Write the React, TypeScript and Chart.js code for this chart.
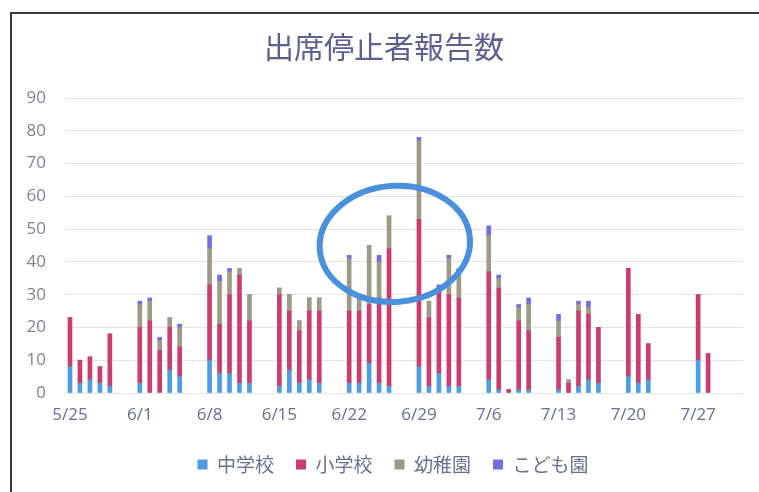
import React, { useEffect, useRef } from "react";
import { Chart, registerables } from "chart.js";

Chart.register(...registerables);

// ---- data ----
const DATES = [
  "5/25", "5/26", "5/27", "5/28", "5/29", "5/30", "5/31",
  "6/1", "6/2", "6/3", "6/4", "6/5", "6/6", "6/7",
  "6/8", "6/9", "6/10", "6/11", "6/12", "6/13", "6/14",
  "6/15", "6/16", "6/17", "6/18", "6/19", "6/20", "6/21",
  "6/22", "6/23", "6/24", "6/25", "6/26", "6/27", "6/28",
  "6/29", "6/30", "7/1", "7/2", "7/3", "7/4", "7/5",
  "7/6", "7/7", "7/8", "7/9", "7/10", "7/11", "7/12",
  "7/13", "7/14", "7/15", "7/16", "7/17", "7/18", "7/19",
  "7/20", "7/21", "7/22", "7/23", "7/24", "7/25", "7/26",
  "7/27", "7/28", "7/29", "7/30", "7/31",
];
const TICK_LABELS = ["5/25", "6/1", "6/8", "6/15", "6/22", "6/29", "7/6", "7/13", "7/20", "7/27"];
const Y_TICKS = [0, 10, 20, 30, 40, 50, 60, 70, 80, 90];

const TITLE = "出席停止者報告数";
const SERIES_NAMES = ["中学校", "小学校", "幼稚園", "こども園"];

// 中学校
const JUNIOR_HIGH = [
  8, 3, 4, 3, 2, null, null,
  3, 0, 0, 7, 5, null, null,
  10, 6, 6, 3, 3, null, null,
  2, 7, 3, 4, 3, null, null,
  3, 3, 9, 3, 2, null, null,
  8, 2, 6, 2, 2, null, null,
  4, 1, 0, 1, 1, null, null,
  1, 0, 2, 4, 3, null, null,
  5, 3, 4, null, null, null, null,
  10, 0, null, null, null,
];
// 小学校
const ELEMENTARY = [
  15, 7, 7, 5, 16, null, null,
  17, 22, 13, 13, 9, null, null,
  23, 15, 24, 33, 19, null, null,
  28, 18, 16, 21, 22, null, null,
  22, 22, 18, 26, 42, null, null,
  45, 21, 26, 28, 27, null, null,
  33, 31, 1, 21, 18, null, null,
  16, 3, 23, 20, 17, null, null,
  33, 21, 11, null, null, null, null,
  20, 12, null, null, null,
];
// 幼稚園
const KINDERGARTEN = [
  0, 0, 0, 0, 0, null, null,
  7, 6, 3, 3, 6, null, null,
  11, 13, 7, 2, 8, null, null,
  2, 5, 3, 4, 4, null, null,
  16, 4, 18, 11, 10, null, null,
  24, 5, 0, 11, 8, null, null,
  11, 3, 0, 4, 8, null, null,
  5, 1, 2, 2, 0, null, null,
  0, 0, 0, null, null, null, null,
  0, 0, null, null, null,
];
// こども園
const CHILDREN_CENTER = [
  0, 0, 0, 0, 0, null, null,
  1, 1, 1, 0, 1, null, null,
  4, 2, 1, 0, 0, null, null,
  0, 0, 0, 0, 0, null, null,
  1, 0, 0, 2, 0, null, null,
  1, 0, 1, 1, 1, null, null,
  3, 1, 0, 1, 2, null, null,
  2, 0, 1, 2, 0, null, null,
  0, 0, 0, null, null, null, null,
  0, 0, null, null, null,
];

// hand-drawn circle annotation, in data units (category index / value)
const NOTE_CENTER_INDEX = 32.58;
const NOTE_CENTER_VALUE = 45.5;
const NOTE_HALF_DAYS = 7.55;
const NOTE_HALF_VALUE = 17.7;
const NOTE_TILT = -0.08;

// ---- styles ----
const COLORS = ["#4e9de3", "#cc3d6f", "#9e9a86", "#6f70e0"];
const CJK = "'Noto Sans CJK JP', 'Noto Sans', sans-serif";
const LATIN = "'Open Sans', 'Noto Sans', sans-serif";

const notePlugin = {
  id: "circleNote",
  afterDatasetsDraw(chart: any) {
    const { ctx, scales } = chart;
    const x = scales.x;
    const y = scales.y;
    const x0 = x.getPixelForValue(0);
    const slot = x.getPixelForValue(1) - x0;
    const cx = x0 + NOTE_CENTER_INDEX * slot;
    const cy = y.getPixelForValue(NOTE_CENTER_VALUE);
    const rx = NOTE_HALF_DAYS * slot;
    const ry = y.getPixelForValue(0) - y.getPixelForValue(NOTE_HALF_VALUE);
    ctx.save();
    ctx.beginPath();
    ctx.ellipse(cx, cy, rx, ry, NOTE_TILT, 0, Math.PI * 2);
    ctx.strokeStyle = "#4a90dc";
    ctx.lineWidth = 6;
    ctx.stroke();
    ctx.restore();
  },
};

const shiftPlugin = {
  id: "shiftBoxes",
  afterLayout(chart: any) {
    if (chart.legend) {
      chart.legend.left += 14;
      chart.legend.right += 14;
    }
    if (chart.titleBlock) {
      chart.titleBlock.left += 5;
      chart.titleBlock.right += 5;
    }
  },
};

export default function App() {
  const ref = useRef<HTMLCanvasElement | null>(null);

  useEffect(() => {
    if (!ref.current) return;
    const series = [JUNIOR_HIGH, ELEMENTARY, KINDERGARTEN, CHILDREN_CENTER];
    const chart = new Chart(ref.current, {
      type: "bar",
      data: {
        labels: DATES,
        datasets: series.map((d, i) => ({
          label: SERIES_NAMES[i],
          data: d,
          backgroundColor: COLORS[i],
          borderWidth: 0,
          barThickness: 4,
          stack: "s",
        })),
      },
      options: {
        responsive: false,
        animation: false,
        layout: { padding: { left: 15, right: 16, top: 0, bottom: 8 } },
        plugins: {
          title: {
            display: true,
            text: TITLE,
            color: "#5c5f90",
            font: { family: CJK, size: 30, weight: "normal", lineHeight: 1.2 },
            padding: { top: 29, bottom: 33 },
          },
          legend: {
            display: true,
            position: "bottom",
            labels: {
              boxWidth: 10,
              boxHeight: 10,
              padding: 22,
              color: "#6e6f90",
              font: { family: CJK, size: 19 },
            },
          },
          tooltip: { enabled: false },
        },
        scales: {
          x: {
            stacked: true,
            grid: { display: false, drawTicks: false },
            border: { display: false },
            afterFit: (axis: any) => {
              axis.height = 40;
            },
            ticks: {
              autoSkip: false,
              maxRotation: 0,
              minRotation: 0,
              padding: 12,
              color: "#6a6b98",
              font: { family: LATIN, size: 17 },
              callback: (_v: any, idx: number) =>
                TICK_LABELS.includes(DATES[idx]) ? DATES[idx] : "",
            },
          },
          y: {
            stacked: true,
            min: Y_TICKS[0],
            max: Y_TICKS[Y_TICKS.length - 1],
            afterBuildTicks: (axis: any) => {
              axis.ticks = Y_TICKS.map((v) => ({ value: v }));
            },
            afterFit: (axis: any) => {
              axis.width = 50;
            },
            grid: { color: "#e4e4e6", lineWidth: 1, drawTicks: false },
            border: { display: false },
            ticks: {
              padding: 19,
              color: "#80809a",
              font: { family: LATIN, size: 17 },
            },
          },
        },
      },
      plugins: [notePlugin, shiftPlugin],
    });
    return () => chart.destroy();
  }, []);

  return (
    <div
      style={{
        position: "fixed",
        left: 0,
        top: 0,
        width: 759,
        height: 492,
        background: "#ffffff",
        overflow: "hidden",
      }}
    >
      <div
        style={{
          position: "absolute",
          left: 10,
          top: 12,
          width: 800,
          height: 600,
          borderTop: "2px solid #3a3a3a",
          borderLeft: "2px solid #3a3a3a",
          boxSizing: "border-box",
        }}
      />
      <canvas
        ref={ref}
        width={759}
        height={492}
        style={{ position: "absolute", left: 0, top: 0, width: 759, height: 492 }}
      />
    </div>
  );
}
